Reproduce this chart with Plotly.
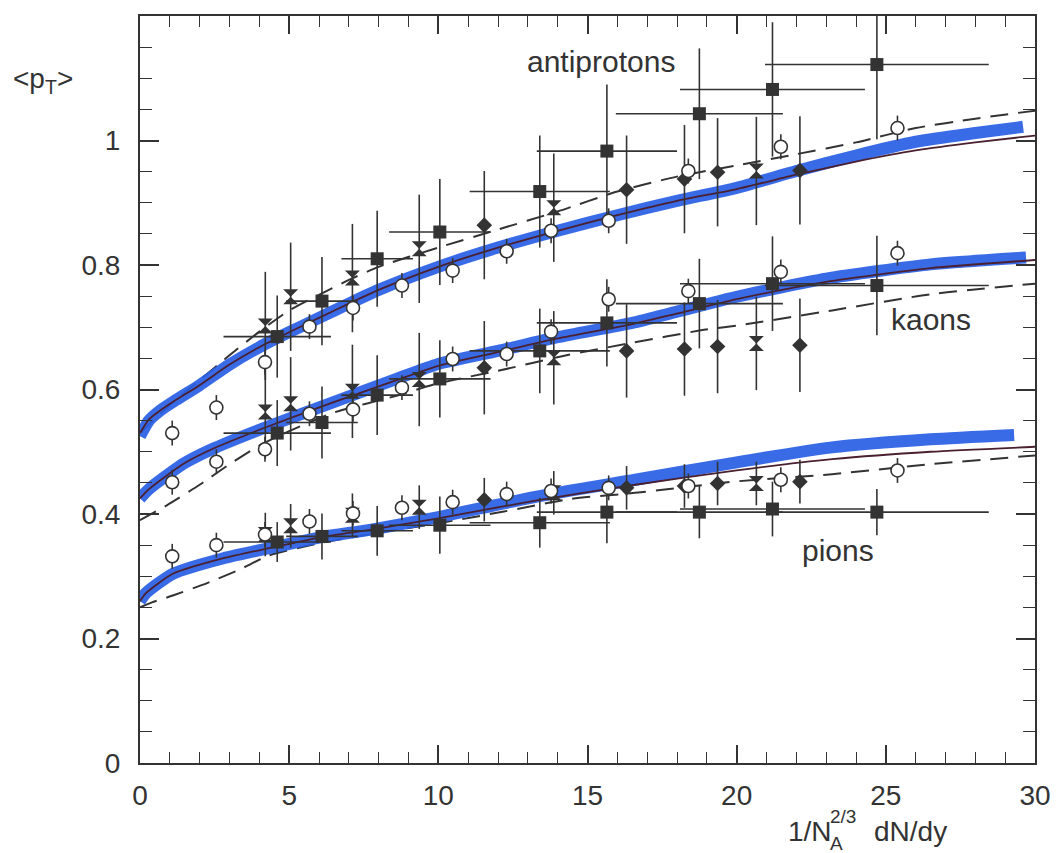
import plotly.graph_objects as go

# ---------------- data ----------------
# common x positions (1/N_A^{2/3} dN/dy)
sq_x = [4.6, 6.1, 7.95, 10.05, 13.4, 15.65, 18.75, 21.2, 24.7]
sq_xerr = [1.8, 1.2, 1.2, 1.7, 2.35, 2.35, 2.8, 3.1, 3.75]
antip_sq_y = [0.685, 0.742, 0.810, 0.853, 0.918, 0.983, 1.043, 1.082, 1.122]
antip_sq_err = [0.066, 0.071, 0.077, 0.085, 0.090, 0.107, 0.105, 0.108, 0.120]
kaon_sq_y = [0.530, 0.547, 0.591, 0.617, 0.662, 0.707, 0.738, 0.770, 0.767]
kaon_sq_err = [0.053, 0.058, 0.064, 0.062, 0.068, 0.070, 0.072, 0.076, 0.080]
pion_sq_y = [0.355, 0.364, 0.373, 0.382, 0.386, 0.403, 0.403, 0.408, 0.403]
pion_sq_err = [0.032, 0.037, 0.040, 0.046, 0.040, 0.050, 0.042, 0.044, 0.037]

circ_x = [1.08, 2.56, 4.19, 5.68, 7.14, 8.78, 10.48, 12.29, 13.78, 15.71, 18.38, 21.48, 25.39]
antip_circ_y = [0.530, 0.571, 0.644, 0.701, 0.731, 0.767, 0.791, 0.822, 0.855, 0.871, 0.951, 0.990, 1.020]
kaon_circ_y = [0.451, 0.484, 0.504, 0.561, 0.568, 0.603, 0.649, 0.657, 0.693, 0.745, 0.758, 0.789, 0.819]
pion_circ_y = [0.332, 0.350, 0.367, 0.388, 0.401, 0.410, 0.419, 0.432, 0.437, 0.442, 0.445, 0.455, 0.470]
circ_err = 0.02

star_x = [4.2, 5.05, 7.12, 9.36, 13.87, 20.66]
antip_star_y = [0.702, 0.749, 0.779, 0.826, 0.892, 0.951]
kaon_star_y = [0.564, 0.577, 0.597, 0.616, 0.651, 0.674]
pion_star_y = [0.367, 0.381, 0.398, 0.411, 0.434, 0.449]

diam_x = [11.54, 16.31, 18.25, 19.36, 22.12]
antip_diam_y = [0.864, 0.921, 0.938, 0.949, 0.952]
kaon_diam_y = [0.635, 0.662, 0.665, 0.669, 0.671]
pion_diam_y = [0.423, 0.442, 0.445, 0.449, 0.452]

antip_filled_err = 0.087
kaon_filled_err = 0.075
pion_filled_err = 0.035

# model curves
antip_blue_x = [0, 0.3, 0.7, 1.2, 2, 3, 4, 5, 6, 7, 8, 10, 12, 14, 16, 18, 20, 22, 24, 26, 28, 29.6]
antip_blue_y = [0.525, 0.55, 0.567, 0.583, 0.607, 0.64, 0.668, 0.692, 0.715, 0.738, 0.76, 0.797,
                0.828, 0.855, 0.88, 0.903, 0.924, 0.951, 0.976, 0.998, 1.012, 1.022]
antip_fit_x = [0, 0.3, 0.7, 1.2, 2, 3, 4, 5, 6, 7, 8, 10, 12, 14, 16, 18, 20, 22, 24, 26, 28, 30]
antip_fit_y = [0.53, 0.552, 0.567, 0.583, 0.607, 0.64, 0.668, 0.692, 0.715, 0.738, 0.76, 0.797,
               0.828, 0.855, 0.88, 0.903, 0.922, 0.945, 0.966, 0.984, 0.997, 1.008]
antip_dash_x = [0, 1, 2, 3, 4, 5, 6, 7, 8, 10, 12, 14, 16, 18, 20, 22, 24, 26, 28, 30]
antip_dash_y = [0.53, 0.575, 0.615, 0.655, 0.693, 0.727, 0.752, 0.776, 0.797, 0.828, 0.857, 0.886,
                0.918, 0.942, 0.96, 0.978, 0.997, 1.02, 1.035, 1.048]

kaon_blue_x = [0, 0.3, 0.9, 1.5, 2.5, 4.2, 6.4, 8.6, 10, 12, 14, 16.5, 18, 20, 23, 26.5, 29.7]
kaon_blue_y = [0.425, 0.44, 0.462, 0.482, 0.506, 0.539, 0.578, 0.617, 0.641, 0.662, 0.684, 0.707,
               0.725, 0.749, 0.778, 0.801, 0.812]
kaon_fit_x = [0, 0.3, 0.9, 1.5, 2.5, 4.2, 6.4, 8.6, 10, 12, 14, 16.5, 18, 20, 23, 26.5, 30]
kaon_fit_y = [0.425, 0.44, 0.462, 0.482, 0.506, 0.539, 0.578, 0.615, 0.638, 0.66, 0.682, 0.705,
              0.722, 0.745, 0.773, 0.795, 0.808]
kaon_dash_x = [0, 0.9, 2, 3, 4, 5, 6.5, 8.6, 10, 12, 14.3, 16.5, 18.8, 20.2, 23.2, 26.5, 30]
kaon_dash_y = [0.39, 0.414, 0.447, 0.48, 0.51, 0.533, 0.563, 0.59, 0.61, 0.63, 0.655, 0.675,
               0.695, 0.704, 0.727, 0.753, 0.77]

pion_blue_x = [0, 0.2, 1.1, 2.8, 4.4, 6.1, 7.75, 10, 13.3, 16.6, 20, 23.2, 26.5, 29.3]
pion_blue_y = [0.26, 0.273, 0.304, 0.329, 0.346, 0.363, 0.375, 0.395, 0.428, 0.455, 0.483, 0.507,
               0.52, 0.527]
pion_fit_x = [0, 0.2, 1.1, 2.8, 4.4, 6.1, 7.75, 10, 13.3, 16.6, 20, 23.2, 26.5, 30]
pion_fit_y = [0.26, 0.273, 0.304, 0.329, 0.346, 0.363, 0.375, 0.393, 0.422, 0.447, 0.47, 0.488,
              0.50, 0.508]
pion_dash_x = [0, 0.4, 1.1, 2.25, 3.35, 4.3, 6, 8, 10, 12.2, 14.4, 16.6, 19.9, 23.2, 26.5, 30]
pion_dash_y = [0.25, 0.258, 0.269, 0.289, 0.311, 0.333, 0.353, 0.37, 0.385, 0.404, 0.424, 0.434,
               0.452, 0.464, 0.48, 0.494]

x_ticks = [0, 5, 10, 15, 20, 25, 30]
y_ticks = [0, 0.2, 0.4, 0.6, 0.8, 1.0]
y_ticktext = ["0", "0.2", "0.4", "0.6", "0.8", "1"]

species_labels = [("antiprotons", 15.45, 1.127), ("kaons", 26.5, 0.713), ("pions", 23.4, 0.341)]

# ---------------- styling ----------------
INK = "#333333"
BLUE = "#2a5fe6"
FONT = "Liberation Sans, Arial, sans-serif"

fig = go.Figure()

# dashed model curves
for xs, ys in [(antip_dash_x, antip_dash_y), (kaon_dash_x, kaon_dash_y), (pion_dash_x, pion_dash_y)]:
    fig.add_trace(go.Scatter(x=xs, y=ys, mode="lines",
                             line=dict(color=INK, width=2, dash="18px,10px", shape="spline", smoothing=0.6),
                             hoverinfo="skip", showlegend=False))

# hand-drawn blue highlights
for xs, ys in [(antip_blue_x, antip_blue_y), (kaon_blue_x, kaon_blue_y), (pion_blue_x, pion_blue_y)]:
    fig.add_trace(go.Scatter(x=xs, y=ys, mode="lines",
                             line=dict(color=BLUE, width=12, shape="spline", smoothing=0.6),
                             opacity=0.92, hoverinfo="skip", showlegend=False))

# thin solid model curves
for xs, ys in [(antip_fit_x, antip_fit_y), (kaon_fit_x, kaon_fit_y), (pion_fit_x, pion_fit_y)]:
    fig.add_trace(go.Scatter(x=xs, y=ys, mode="lines",
                             line=dict(color="#4a2030", width=1.8, shape="spline", smoothing=0.6),
                             hoverinfo="skip", showlegend=False))

ebar = dict(color=INK, thickness=1.6, width=0)

# squares with x and y error bars
for ys, errs in [(antip_sq_y, antip_sq_err), (kaon_sq_y, kaon_sq_err), (pion_sq_y, pion_sq_err)]:
    fig.add_trace(go.Scatter(x=sq_x, y=ys, mode="markers",
                             marker=dict(symbol="square", size=13, color=INK),
                             error_x=dict(type="data", array=sq_xerr, **ebar),
                             error_y=dict(type="data", array=errs, **ebar),
                             showlegend=False))

# filled hourglass-like stars
for ys, err in [(antip_star_y, antip_filled_err), (kaon_star_y, kaon_filled_err), (pion_star_y, pion_filled_err)]:
    fig.add_trace(go.Scatter(x=star_x, y=ys, mode="markers",
                             marker=dict(symbol="hourglass", size=15, color=INK),
                             error_y=dict(type="constant", value=err, **ebar),
                             showlegend=False))

# filled diamonds
for ys, err in [(antip_diam_y, antip_filled_err), (kaon_diam_y, kaon_filled_err), (pion_diam_y, pion_filled_err)]:
    fig.add_trace(go.Scatter(x=diam_x, y=ys, mode="markers",
                             marker=dict(symbol="diamond", size=12, color=INK),
                             error_y=dict(type="constant", value=err, **ebar),
                             showlegend=False))

# open circles
for ys in [antip_circ_y, kaon_circ_y, pion_circ_y]:
    fig.add_trace(go.Scatter(x=circ_x, y=ys, mode="markers",
                             marker=dict(symbol="circle", size=13, color="white", line=dict(color=INK, width=1.6)),
                             error_y=dict(type="constant", value=circ_err, **ebar),
                             showlegend=False))

annotations = []
for txt, xv, yv in species_labels:
    annotations.append(dict(x=xv, y=yv, xref="x", yref="y", text=txt, showarrow=False,
                            font=dict(family=FONT, size=30, color=INK), xanchor="center", yanchor="middle"))

# y-axis title  <p_T>
annotations.append(dict(x=-0.1436, y=0.914, xref="paper", yref="paper", text="&lt;p<sub>T</sub>&gt;",
                        showarrow=False, font=dict(family=FONT, size=28, color=INK), xanchor="left", yanchor="middle"))
# x-axis title  1/N_A^{2/3} dN/dy
annotations.append(dict(x=(842 - 140) / 905, y=(763 - 831) / 747, xref="paper", yref="paper", text="1/N",
                        showarrow=False, font=dict(family=FONT, size=28, color=INK), xanchor="right", yanchor="middle"))
annotations.append(dict(x=(836 - 140) / 905, y=(763 - 816) / 747, xref="paper", yref="paper", text="2/3",
                        showarrow=False, font=dict(family=FONT, size=19, color=INK), xanchor="left", yanchor="middle"))
annotations.append(dict(x=(836 - 140) / 905, y=(763 - 843) / 747, xref="paper", yref="paper", text="A",
                        showarrow=False, font=dict(family=FONT, size=19, color=INK), xanchor="left", yanchor="middle"))
annotations.append(dict(x=(880 - 140) / 905, y=(763 - 831) / 747, xref="paper", yref="paper", text="dN/dy",
                        showarrow=False, font=dict(family=FONT, size=28, color=INK), xanchor="left", yanchor="middle"))

fig.update_layout(
    width=1063, height=853,
    margin=dict(l=140, r=18, t=16, b=90),
    paper_bgcolor="white", plot_bgcolor="white",
    showlegend=False,
    font=dict(family=FONT, color=INK),
    annotations=annotations,
    xaxis=dict(range=[0, 30], showgrid=False, zeroline=False,
               showline=True, linecolor=INK, linewidth=2, mirror="ticks",
               tickmode="array", tickvals=x_ticks, ticktext=[str(v) for v in x_ticks],
               ticks="inside", ticklen=18, tickwidth=1.6, tickcolor=INK,
               tickfont=dict(family=FONT, size=28, color=INK), ticklabelstandoff=6,
               minor=dict(tickmode="linear", tick0=0, dtick=1, ticks="inside", ticklen=11,
                          tickwidth=1.4, tickcolor=INK, showgrid=False)),
    yaxis=dict(range=[0, 1.2], showgrid=False, zeroline=False,
               showline=True, linecolor=INK, linewidth=2, mirror="ticks",
               tickmode="array", tickvals=y_ticks, ticktext=y_ticktext,
               ticks="inside", ticklen=19, tickwidth=1.6, tickcolor=INK,
               tickfont=dict(family=FONT, size=28, color=INK), ticklabelstandoff=12,
               minor=dict(tickmode="linear", tick0=0, dtick=0.05, ticks="inside", ticklen=12,
                          tickwidth=1.4, tickcolor=INK, showgrid=False)),
)

fig.write_html("out.html")
